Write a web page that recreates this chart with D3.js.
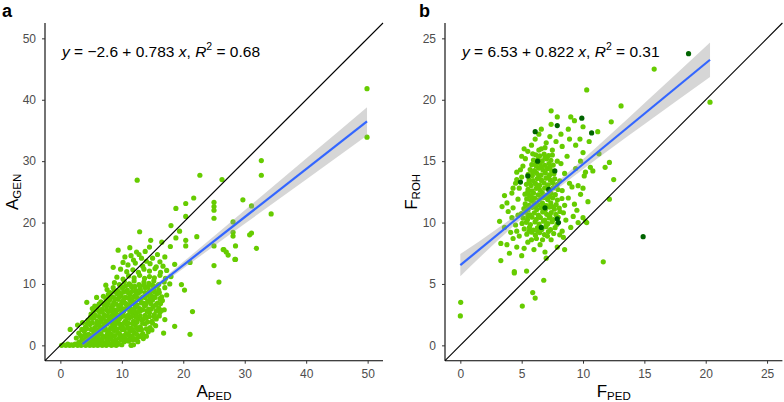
<!DOCTYPE html>
<html><head><meta charset="utf-8">
<script src="https://cdn.jsdelivr.net/npm/d3@7"></script>
<style>
body{margin:0;background:#fff;}
text{font-family:"Liberation Sans",Arial,sans-serif;}
</style>
</head><body>
<svg id="chart" width="784" height="402"></svg>
<script>
// ---------- DATA ----------
const panelLabels = ["a", "b"];
const ticksA = [0, 10, 20, 30, 40, 50];
const ticksB = [0, 5, 10, 15, 20, 25];

// Panel a: A_PED (x) vs A_GEN (y)
const panelAPoints = [
 [0.2,0],[0.5,0.1],[0.9,0],[1.2,0.2],[1.5,0],[1.8,0.1],[2.1,0],[2.4,0.2],[2.8,0],[3.1,0.1],[3.4,0],[3.8,0.2],[4.1,0],[4.4,0.1],[4.8,0],[5.1,0.2],[5.4,0],[5.8,0.1],[6.1,0],[6.5,0.2],[6.8,0],[7.2,0.1],[7.5,0],[7.9,0.2],[8.3,0],[8.7,0.1],[9.1,0],[9.5,0.2],[10.0,0.1],[11.5,0],[11.9,0.1],[11.6,0.05],[12.6,0.6],
 [3.0,0.5],[3.9,0.6],[4.7,0.4],[5.6,0.6],[6.4,0.5],[7.0,0.4],[7.7,0.6],[8.5,0.5],[9.3,0.4],[10.4,0.6],
 [2.6,1.2],[3.5,1.0],[4.2,1.3],[4.9,0.9],[5.5,1.4],[6.2,1.1],[6.8,0.8],[7.3,1.3],[7.9,1.0],[8.5,1.5],[9.0,0.9],[9.6,1.2],[10.2,1.4],[10.9,0.8],[11.4,1.2],[12.1,1.0],[12.8,1.4],[13.5,1.1],
 [1.6,2.6],[3.0,2.0],[3.9,2.3],[4.6,1.8],[5.3,2.4],[6.0,2.1],[6.6,1.9],[7.1,2.5],[7.7,2.2],[8.3,1.8],[8.8,2.4],[9.4,2.0],[10.0,2.6],[10.7,1.9],[11.3,2.3],[12.0,2.1],[12.7,2.5],[13.4,1.9],[14.3,2.2],[16.8,2.0],[21.1,1.8],
 [2.8,3.3],[4.1,3.0],[4.8,3.4],[5.6,2.9],[6.3,3.3],[7.0,3.1],[7.6,3.5],[8.2,2.9],[8.9,3.2],[9.5,3.6],[10.1,3.0],[10.8,3.4],[11.5,2.8],[12.2,3.3],[13.0,3.0],[13.8,3.5],[14.6,2.9],[15.5,3.2],[18.6,3.1],
 [4.5,4.1],[5.2,4.4],[6.0,3.9],[6.7,4.3],[7.4,4.0],[8.0,4.5],[8.6,3.8],[9.3,4.2],[9.9,4.6],[10.6,4.0],[11.2,4.4],[11.9,3.9],[12.6,4.3],[13.3,4.1],[14.0,4.5],[14.9,3.9],[15.6,4.3],[17.0,4.2],
 [5.0,5.1],[5.7,4.9],[6.4,5.4],[7.1,5.0],[7.8,5.5],[8.4,4.9],[9.0,5.3],[9.7,5.0],[10.3,5.5],[11.0,4.9],[11.7,5.3],[12.3,5.1],[13.0,5.6],[13.8,4.9],[14.5,5.3],[15.3,5.0],[16.2,5.4],[21.5,5.5],
 [5.2,6.0],[6.0,6.3],[6.8,5.9],[7.5,6.4],[8.2,6.1],[8.8,5.8],[9.5,6.3],[10.1,6.0],[10.8,6.5],[11.5,5.9],[12.2,6.2],[12.9,6.0],[13.7,6.4],[14.4,5.9],[15.1,6.3],[16.0,6.1],[16.9,5.8],[5.6,6.4],
 [4.3,7.0],[5.9,7.8],[6.6,7.1],[7.3,6.9],[8.0,7.4],[8.7,7.0],[9.4,7.5],[10.0,7.1],[10.7,6.8],[11.4,7.3],[12.1,7.0],[12.8,7.5],[13.5,6.9],[14.2,7.2],[15.0,7.4],[15.8,6.9],[16.6,7.3],
 [7.0,8.0],[7.8,8.3],[8.5,7.9],[9.2,8.4],[9.9,8.1],[10.6,7.8],[11.3,8.3],[12.0,8.0],[12.7,8.5],[13.4,7.9],[14.1,8.2],[14.9,8.0],[15.7,8.4],[16.5,7.9],[17.3,8.2],
 [7.6,9.1],[8.6,9.4],[9.3,8.9],[10.1,9.3],[10.9,9.0],[11.6,9.5],[12.3,8.9],[13.0,9.2],[13.8,9.4],[14.5,8.9],[15.2,9.3],[16.0,9.0],[17.0,9.4],[19.7,9.9],[20.2,9.0],
 [7.4,9.8],[8.8,10.2],[9.6,9.9],[10.4,10.4],[11.2,10.0],[12.0,10.5],[12.8,9.9],[13.6,10.3],[14.4,10.1],[15.2,10.5],[16.0,9.9],[16.9,10.3],[17.8,10.0],[25.8,10.3],
 [9.2,11.1],[10.2,10.8],[11.1,11.3],[12.0,11.0],[12.9,11.4],[13.7,10.9],[14.5,11.2],[15.3,11.0],[16.2,11.4],[17.1,10.9],[18.0,11.2],
 [8.6,12.7],[9.8,12.4],[10.8,12.0],[11.8,12.3],[12.7,11.9],[13.6,12.4],[14.5,12.1],[15.4,12.5],[16.3,11.9],[17.3,12.2],
 [11.0,13.1],[12.2,13.4],[13.4,12.9],[14.6,13.3],[16.7,12.9],[18.6,13.2],[21.1,13.5],[25.0,13.0],
 [13.2,14.2],[14.0,13.7],[13.8,15.3],[15.0,14.2],[11.9,13.9],[12.4,15.2],[14.5,16.0],[15.6,12.8],[16.2,13.6],[10.2,13.5],[11.5,14.6],
 [10.5,14.4],[12.8,14.8],[15.8,14.8],[17.0,14.4],[9.4,15.5],[11.3,15.9],[12.9,18.5],[14.7,17.1],[16.5,16.8],[17.9,16.1],
 [18.0,19.5],[19.4,18.6],[18.8,17.5],[20.4,17.1],[22.2,17.7],[20.4,16.2],[20.4,21.0],[18.8,22.3],[20.4,23.1],[21.7,24.0],[22.7,27.7],[26.3,27.0],[12.5,26.9],
 [25.0,16.2],[26.5,15.6],[27.0,15.2],[28.5,16.2],[31.9,15.8],[28.4,14.0],[26.6,15.6],[27.3,14.7],[28.5,14.0],
 [29.7,23.7],[31.1,22.7],[25.0,23.3],[25.0,22.6],[25.0,22.0],[25.0,20.7],[34.3,21.4],[28.1,20.1],[28.1,18.4],[28.1,17.8],[30.8,18.0],[31.1,18.3],
 [32.7,30.1],[32.7,27.7],[49.9,41.8],[49.9,33.9],
 [3.7,0.8],[4.5,0.7],[5.2,1.0],[5.9,0.8],[6.5,0.9],[7.6,0.7],[8.2,1.1],[8.8,0.7],[9.9,0.9],[10.6,1.1],[11.1,0.7],[11.8,0.9],[12.4,1.0],
 [3.3,1.6],[4.0,1.7],[4.7,1.5],[5.4,1.8],[6.1,1.6],[6.9,1.5],[7.6,1.7],[8.2,1.6],[8.9,1.6],[9.7,1.8],[10.4,1.6],[11.1,1.7],[11.7,1.5],[12.4,1.8],[13.1,1.6],[14.0,1.5],
 [3.5,2.6],[4.3,2.7],[5.0,2.6],[5.8,2.6],[6.4,2.7],[7.3,2.8],[8.0,2.5],[8.6,2.7],[9.2,2.6],[9.8,2.9],[10.4,2.6],[11.0,2.8],[11.7,2.6],[12.4,2.8],[13.2,2.6],[14.0,2.7],[14.9,2.5],
 [3.6,3.7],[4.4,3.6],[5.2,3.7],[5.9,3.5],[6.6,3.8],[7.3,3.6],[7.9,3.8],[8.5,3.5],[9.2,3.8],[9.8,3.4],[10.4,3.7],[11.1,3.6],[11.8,3.5],[12.5,3.8],[13.4,3.6],[14.2,3.8],[15.0,3.6],
 [4.9,4.6],[5.5,4.5],[6.3,4.7],[7.0,4.5],[7.7,4.8],[8.3,4.4],[9.0,4.7],[9.6,4.3],[10.3,4.8],[10.9,4.5],[11.6,4.7],[12.3,4.6],[13.0,4.8],[13.7,4.4],[14.5,4.7],[15.3,4.6],[16.1,4.8],
 [5.4,5.6],[6.1,5.7],[6.8,5.5],[7.5,5.8],[8.1,5.6],[8.7,5.5],[9.3,5.8],[10.0,5.6],[10.6,5.9],[11.3,5.5],[12.0,5.7],[12.7,5.5],[13.4,5.8],[14.1,5.6],[14.8,5.9],[15.6,5.6],[16.5,5.7],
 [6.3,6.7],[7.1,6.6],[7.8,6.8],[8.5,6.5],[9.1,6.7],[9.8,6.6],[10.4,6.9],[11.1,6.6],[11.8,6.8],[12.5,6.6],[13.2,6.9],[13.9,6.6],[14.7,6.8],[15.5,6.6],[16.3,6.8],
 [7.4,7.6],[8.2,7.8],[8.9,7.6],[9.6,7.9],[10.3,7.5],[11.0,7.7],[11.7,7.6],[12.4,7.8],[13.1,7.6],[13.8,7.8],[14.6,7.6],[15.4,7.8],[16.2,7.6],
 [8.1,8.6],[8.8,8.8],[9.6,8.6],[10.3,8.7],[11.0,8.6],[11.7,8.8],[12.4,8.5],[13.1,8.8],[13.8,8.6],[14.5,8.5],[15.3,8.7],[16.1,8.6],
 [9.9,9.6],[10.6,9.7],[11.4,9.8],[12.1,9.6],[12.9,9.7],[13.6,9.8],[14.3,9.6],[15.0,9.8],[15.8,9.7]
];

// Panel b: F_PED (x) vs F_ROH (y)
const panelBPoints = [
 [5.42,9.05],[5.83,9.22],[6.12,8.96],[6.47,9.18],[6.85,9.02],[7.18,9.27],[7.61,9.11],[5.21,9.48],[5.63,9.61],[5.94,9.39],[6.28,9.57],[6.64,9.44],[6.98,9.66],[7.35,9.42],[7.72,9.58],
 [5.03,9.93],[5.38,10.02],[5.71,9.84],[6.09,10.05],[6.42,9.88],[6.77,10.11],[7.13,9.91],[7.48,10.07],[7.88,9.86],
 [5.12,10.36],[5.47,10.22],[5.84,10.44],[6.19,10.27],[6.53,10.41],[6.88,10.19],[7.24,10.38],[7.59,10.25],[7.97,10.43],
 [4.98,10.72],[5.33,10.84],[5.68,10.63],[6.03,10.79],[6.35,10.61],[6.71,10.86],[7.04,10.67],[7.41,10.81],[7.79,10.66],[8.12,10.9],
 [5.18,11.13],[5.52,11.02],[5.87,11.24],[6.23,11.07],[6.57,11.21],[6.92,11.04],[7.27,11.26],[7.66,11.09],[8.06,11.18],
 [5.29,11.52],[5.61,11.41],[5.98,11.63],[6.31,11.47],[6.69,11.58],[7.02,11.39],[7.37,11.61],[7.81,11.46],
 [5.41,11.92],[5.74,11.81],[6.07,11.98],[6.43,11.84],[6.79,12.03],[7.12,11.87],[7.53,12.01],[7.91,11.83],[8.28,11.96],
 [5.27,12.31],[5.63,12.22],[5.96,12.41],[6.34,12.26],[6.68,12.44],[7.03,12.21],[7.39,12.38],[7.74,12.27],
 [5.52,12.71],[5.84,12.59],[6.18,12.79],[6.51,12.63],[6.87,12.81],[7.23,12.66],[7.58,12.84],[7.96,12.69],
 [5.39,13.11],[5.77,13.02],[6.12,13.19],[6.46,13.04],[6.83,13.22],[7.17,13.07],[7.52,13.24],[7.88,13.09],
 [5.61,13.49],[5.93,13.41],[6.27,13.58],[6.62,13.43],[6.98,13.61],[7.33,13.46],[7.69,13.55],
 [5.53,13.92],[5.87,13.83],[6.23,14.01],[6.58,13.86],[6.93,14.04],[7.28,13.88],[7.63,13.97],
 [5.69,14.31],[6.04,14.24],[6.38,14.42],[6.73,14.27],[7.09,14.39],[7.44,14.22],
 [5.82,14.71],[6.17,14.63],[6.52,14.79],[6.88,14.66],[7.22,14.81],[7.57,14.68],
 [5.96,15.09],[6.33,15.16],[6.68,15.02],[7.03,15.19],[7.38,15.07],
 [6.14,15.52],[6.47,15.43],[6.83,15.58],[7.19,15.46],
 [5.6,9.3],[6.3,9.3],[7.0,9.8],[5.5,10.5],[6.4,10.5],[7.3,10.5],[5.4,11.3],[6.1,11.3],[6.8,11.4],[7.5,11.3],[5.8,12.1],[6.6,12.1],[7.3,12.1],[5.5,12.5],[6.4,12.9],[7.1,12.9],[5.6,13.3],[6.4,13.7],[7.2,13.7],[5.9,14.1],[6.6,14.5],[7.3,14.5],[6.2,14.9],[6.9,15.3],[6.4,15.9],[6.9,16.1],[5.9,15.6],[7.5,15.5],
 [4.0,7.5],[4.6,8.0],[5.0,7.3],[5.5,8.4],[6.0,7.8],[6.5,8.2],[6.9,7.6],[7.4,8.6],[7.9,8.0],[8.4,8.8],[4.3,8.7],[4.8,8.9],[5.2,7.9],[6.2,8.7],[7.1,8.9],[3.8,8.2],[7.0,7.1],[5.8,8.6],[6.7,8.6],
 [3.6,9.6],[4.1,9.2],[4.5,9.8],[4.2,10.4],[4.7,10.6],[3.9,10.9],[8.3,9.3],[8.6,10.2],[9.0,9.6],[8.4,10.8],[9.2,10.5],[10.0,10.4],[4.6,9.3],[8.1,9.0],
 [3.8,11.6],[4.3,11.2],[4.7,11.9],[4.2,12.4],[4.8,12.8],[3.6,12.2],[8.5,11.4],[8.8,12.0],[9.3,11.5],[8.3,12.6],[9.1,12.9],[9.8,12.3],[10.4,11.7],[9.5,11.0],
 [4.5,13.2],[5.0,13.7],[4.6,14.1],[5.1,14.6],[5.3,15.2],[8.1,13.4],[8.5,14.0],[8.9,13.2],[9.4,14.4],[10.1,13.8],[10.6,14.5],[9.8,15.0],[8.2,14.8],[8.7,15.4],[7.9,15.0],
 [5.5,15.8],[5.8,16.3],[6.1,16.8],[6.6,16.0],[7.0,16.5],[7.5,15.9],[7.8,16.6],[8.3,16.2],[8.9,16.8],[9.4,16.3],[10.0,15.7],[10.5,16.6],[6.4,17.2],[7.3,17.0],[5.2,16.0],[5.0,15.4],
 [6.6,17.6],[7.4,18.0],[8.2,17.2],[8.8,17.6],[10.0,17.8],[9.3,18.3],[7.9,18.6],[9.75,16.8],
 [10.8,14.2],[11.8,14.5],[10.2,14.1],[10.0,12.8],[9.6,13.0],[11.3,15.6],[4.9,14.3],[4.6,13.5],[4.3,12.8],
 [15.8,22.5],[10.3,20.8],[13.1,19.5],[7.4,19.1],[9.0,18.6],[12.3,18.2],[11.2,17.4],[12.15,14.9],[12.5,13.5],[12.15,11.9],[20.35,19.8],
 [3.4,11.3],[3.2,10.1],[3.3,8.3],[3.3,6.9],[4.4,6.0],[4.4,5.9],[5.4,6.05],[6.8,5.3],[8.5,7.8],[10.2,10.1],[9.6,10.0],[10.3,10.0],
 [0.03,3.5],[0.0,2.4],[5.05,3.2],[5.9,4.3],[6.1,3.85],[11.65,6.8]
];
const panelBDarkPoints = [
 [6.1,17.4],[7.9,17.9],[9.9,18.5],[10.7,17.3],[4.9,13.3],[8.0,10.0],[7.9,10.3],[14.9,8.85],[18.6,23.75],
 [6.3,15.0],[7.2,12.7],[6.6,9.6],[5.5,13.8],[7.7,14.2],[6.9,11.2]
];

// Fitted regressions (from the equations shown)
const fitA = {intercept: -2.6, slope: 0.783, r2: "0.68", from: 3.6, to: 49.9};
const fitB = {intercept: 6.53, slope: 0.822, r2: "0.31", from: 0, to: 20.35};
// confidence band half-widths read at several x
const bandAX = [3.6, 10, 20, 30, 40, 49.9];
const bandAHalf = [0.45, 0.25, 0.55, 1.1, 1.7, 2.3];
const bandBX = [0, 3, 7, 10, 15, 20.35];
const bandBHalf = [0.9, 0.5, 0.25, 0.4, 0.85, 1.4];

// ---------- DRAW ----------
const svg = d3.select("#chart");
const LIGHT = "#66CC00", DARK = "#006400";

function drawPanel(o) {
  const x = d3.scaleLinear().domain(o.domain).range([o.left, o.right]);
  const y = d3.scaleLinear().domain(o.domain).range([o.bottom, o.top]);
  const g = svg.append("g");

  g.append("g").selectAll("circle").data(o.points).join("circle")
    .attr("cx", d => x(d[0])).attr("cy", d => y(d[1])).attr("r", 2.6).attr("fill", LIGHT);
  if (o.dark) g.append("g").selectAll("circle").data(o.dark).join("circle")
    .attr("cx", d => x(d[0])).attr("cy", d => y(d[1])).attr("r", 2.6).attr("fill", DARK);

  g.append("line").attr("x1", x(o.domain[0])).attr("y1", y(o.domain[0]))
    .attr("x2", x(o.domain[1])).attr("y2", y(o.domain[1]))
    .attr("stroke", "#000").attr("stroke-width", 1.1);

  const f = v => o.fit.intercept + o.fit.slope * v;
  const band = o.bandX.map((v, i) => ({x: v, lo: f(v) - o.bandHalf[i], hi: f(v) + o.bandHalf[i]}));
  g.append("path").datum(band)
    .attr("d", d3.area().curve(d3.curveMonotoneX).x(d => x(d.x)).y0(d => y(d.lo)).y1(d => y(d.hi)))
    .attr("fill", "#999999").attr("fill-opacity", 0.4);
  g.append("line").attr("x1", x(o.fit.from)).attr("y1", y(f(o.fit.from)))
    .attr("x2", x(o.fit.to)).attr("y2", y(f(o.fit.to)))
    .attr("stroke", "#3366FF").attr("stroke-width", 2.2);

  const ax = g.append("g").attr("transform", `translate(0,${o.bottom})`)
    .call(d3.axisBottom(x).tickValues(o.ticks).tickSize(3).tickPadding(6).tickSizeOuter(0));
  const ay = g.append("g").attr("transform", `translate(${o.left},0)`)
    .call(d3.axisLeft(y).tickValues(o.ticks).tickSize(3).tickPadding(6).tickSizeOuter(0));
  [ax, ay].forEach(a => {
    a.select(".domain").attr("stroke", "#000").attr("stroke-width", 1.1);
    a.selectAll(".tick line").attr("stroke", "#333");
    a.selectAll(".tick text").attr("fill", "#4D4D4D").style("font-size", "12px")
      .style("font-family", "'Liberation Sans', Arial, sans-serif");
  });
  ax.select(".domain").attr("d", `M${o.left},0H${o.right}`);
  ay.select(".domain").attr("d", `M0,${o.bottom}V${o.top}`);

  const cx = (o.left + o.right) / 2, cy = (o.top + o.bottom) / 2;
  const xt = svg.append("text").attr("x", cx).attr("y", 397).attr("text-anchor", "middle")
    .style("font-size", "17px").attr("fill", "#000");
  xt.append("tspan").text(o.xTitle[0]);
  xt.append("tspan").attr("dy", 3).style("font-size", "11.5px").text(o.xTitle[1]);
  const yt = svg.append("text").attr("transform", `translate(${o.yTitleX},${cy}) rotate(-90)`)
    .attr("text-anchor", "middle").style("font-size", "17px").attr("fill", "#000");
  yt.append("tspan").text(o.yTitle[0]);
  yt.append("tspan").attr("dy", 3).style("font-size", "11.5px").text(o.yTitle[1]);

  const eq = svg.append("text").attr("x", o.eqX).attr("y", 57).style("font-size", "15.5px").attr("fill", "#000");
  const ic = o.fit.intercept < 0 ? "\u2212" + Math.abs(o.fit.intercept) : String(o.fit.intercept);
  eq.append("tspan").style("font-style", "italic").text("y");
  eq.append("tspan").text(` = ${ic} + ${o.fit.slope} `);
  eq.append("tspan").style("font-style", "italic").text("x");
  eq.append("tspan").text(", ");
  eq.append("tspan").style("font-style", "italic").text("R");
  eq.append("tspan").attr("dy", -7).style("font-size", "10.5px").text("2");
  eq.append("tspan").attr("dy", 7).text(` = ${o.fit.r2}`);

  svg.append("text").attr("x", o.labelX).attr("y", 17).style("font-size", "18px")
    .style("font-weight", "bold").attr("fill", "#000").text(o.label);
}

drawPanel({
  label: panelLabels[0], labelX: 2, domain: [-2.5, 52.5], ticks: ticksA,
  left: 45, right: 383, top: 23, bottom: 360.7,
  points: panelAPoints, fit: fitA, bandX: bandAX, bandHalf: bandAHalf,
  xTitle: ["A", "PED"], yTitle: ["A", "GEN"], yTitleX: 18, eqX: 62
});
drawPanel({
  label: panelLabels[1], labelX: 419, domain: [-1.25, 26.25], ticks: ticksB,
  left: 445, right: 782.4, top: 23, bottom: 360.7,
  points: panelBPoints, dark: panelBDarkPoints, fit: fitB, bandX: bandBX, bandHalf: bandBHalf,
  xTitle: ["F", "PED"], yTitle: ["F", "ROH"], yTitleX: 417, eqX: 462
});
</script>
</body></html>
